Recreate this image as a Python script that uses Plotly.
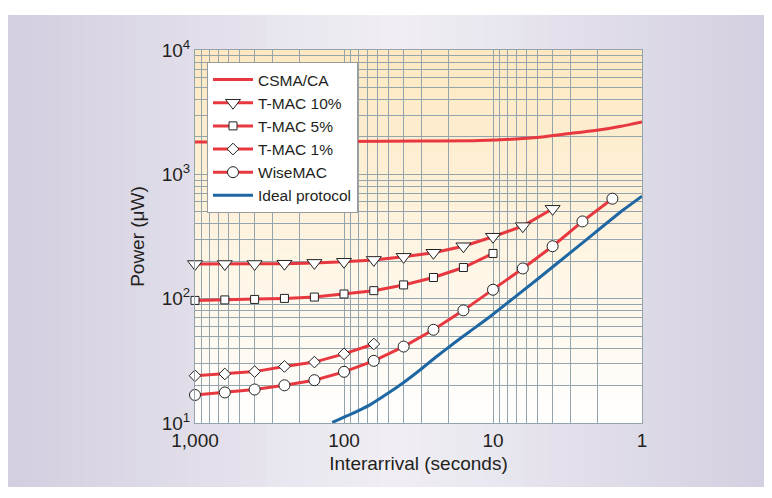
import plotly.graph_objects as go

# ---------------- data ----------------
x_marker = [1000, 631, 398, 251, 158, 100, 63.1, 39.8, 25.1, 15.8, 10, 6.31, 3.98, 2.51, 1.58]

tmac10_y = [190, 190, 190, 191, 194, 198, 205, 217, 234, 264, 315, 383, 528]
tmac5_y = [96.8, 97.7, 98.6, 100.5, 103, 109, 116, 129, 148, 178, 231]
tmac1_y = [24.0, 24.8, 25.9, 28.5, 30.9, 36.0, 43.2]
wisemac_y = [16.8, 17.6, 18.6, 20.1, 22.1, 25.8, 31.6, 41.2, 56.2, 80.5, 118, 175, 264, 418, 637]

csma_x = [1000, 300, 100, 30, 12.2, 5.1, 3.37, 2.01, 1.41, 1.0]
csma_y = [1820, 1825, 1840, 1855, 1870, 1975, 2100, 2265, 2425, 2640]

ideal_x = [120, 86.7, 67.0, 51.6, 40.0, 30.9, 23.9, 18.5, 14.3, 10.5, 5.01, 2.51, 1.34, 1.0]
ideal_y = [10.1, 12.0, 14.0, 17.1, 21.1, 26.7, 34.3, 43.4, 54.5, 71.5, 144, 281, 516, 668]

x_ticks = [1000, 100, 10, 1]
x_ticktext = ["1,000", "100", "10", "1"]
y_ticks = [10, 100, 1000, 10000]
y_ticktext = ["10<sup>1</sup>", "10<sup>2</sup>", "10<sup>3</sup>", "10<sup>4</sup>"]

# ---------------- style ----------------
RED = "#e8383f"
BLUE = "#1f67a3"
GRID = "#93a4ad"
FONT = "Liberation Sans, Arial, sans-serif"
W, H = 772, 498
OFF = 8  # page body margin
L, R, T, B = 195 - OFF, 772 - (642 - OFF), 50 - OFF, 498 - (423 - OFF)
PW, PH = W - L - R, H - T - B


def px2paper_x(px):  # px in screenshot coordinates
    return (px - OFF - L) / PW


def px2paper_y(py):
    return (H - B - (py - OFF)) / PH


def lerp(c1, c2, t):
    return tuple(round(a + (b - a) * t) for a, b in zip(c1, c2))


shapes = []
# lavender panel with horizontal gradient (light in the middle)
edge = (211, 206, 224)
mid = (240, 239, 244)
x0_px, x1_px, y0_px, y1_px = 8, 780, 15, 487
N = 60
for i in range(N):
    a = x0_px + (x1_px - x0_px) * i / N
    b = x0_px + (x1_px - x0_px) * (i + 1) / N + 0.6
    t = abs(((i + 0.5) / N) - 0.5) * 2
    c = lerp(mid, edge, t)
    shapes.append(dict(type="rect", xref="paper", yref="paper", layer="below",
                       x0=px2paper_x(a), x1=px2paper_x(b),
                       y0=px2paper_y(y1_px), y1=px2paper_y(y0_px),
                       fillcolor="rgb(%d,%d,%d)" % c, line=dict(width=0)))
# plot-area vertical gradient (cream top -> white bottom)
top_c = (253, 232, 193)
bot_c = (255, 255, 255)
M = 50
for i in range(M):
    y0 = i / M
    y1 = (i + 1) / M + 0.002
    c = lerp(bot_c, top_c, (i + 0.5) / M)
    shapes.append(dict(type="rect", xref="paper", yref="paper", layer="below",
                       x0=0, x1=1, y0=y0, y1=min(y1, 1),
                       fillcolor="rgb(%d,%d,%d)" % c, line=dict(width=0)))

mk_line = dict(color="#222222", width=1)

fig = go.Figure()
fig.add_trace(go.Scatter(x=csma_x, y=csma_y, mode="lines", name="CSMA/CA",
                         line=dict(color=RED, width=3, shape="spline", smoothing=0.8)))
fig.add_trace(go.Scatter(x=x_marker[:len(tmac10_y)], y=tmac10_y, mode="lines+markers", name="T-MAC 10%",
                         line=dict(color=RED, width=3), cliponaxis=False,
                         marker=dict(symbol="triangle-down", size=13, color="white", line=mk_line)))
fig.add_trace(go.Scatter(x=x_marker[:len(tmac5_y)], y=tmac5_y, mode="lines+markers", name="T-MAC 5%",
                         line=dict(color=RED, width=3), cliponaxis=False,
                         marker=dict(symbol="square", size=8, color="white", line=mk_line)))
fig.add_trace(go.Scatter(x=x_marker[:len(tmac1_y)], y=tmac1_y, mode="lines+markers", name="T-MAC 1%",
                         line=dict(color=RED, width=3), cliponaxis=False,
                         marker=dict(symbol="diamond", size=9, color="white", line=mk_line)))
fig.add_trace(go.Scatter(x=x_marker[:len(wisemac_y)], y=wisemac_y, mode="lines+markers", name="WiseMAC",
                         line=dict(color=RED, width=3), cliponaxis=False,
                         marker=dict(symbol="circle", size=11, color="white", line=mk_line)))
fig.add_trace(go.Scatter(x=ideal_x, y=ideal_y, mode="lines", name="Ideal protocol",
                         line=dict(color=BLUE, width=3, shape="spline", smoothing=0.5)))

minor_x = [m * 10 ** e for e in range(0, 3) for m in range(2, 10)]
minor_y = [m * 10 ** e for e in range(1, 4) for m in range(2, 10)]

fig.update_layout(
    width=W, height=H, autosize=False,
    margin=dict(l=L, r=R, t=T, b=B, pad=0),
    paper_bgcolor="white",
    plot_bgcolor="rgba(0,0,0,0)",
    shapes=shapes,
    font=dict(family=FONT, color="#231f20", size=19),
    showlegend=True,
    legend=dict(x=px2paper_x(207), y=px2paper_y(62), xanchor="left", yanchor="top",
                bgcolor="white", bordercolor="#9a9a9a", borderwidth=1,
                font=dict(family=FONT, size=15.5, color="#231f20"),
                tracegroupgap=0, itemwidth=40),
    xaxis=dict(type="log", range=[3, 0], tickmode="array", tickvals=x_ticks, ticktext=x_ticktext,
               showgrid=True, gridcolor=GRID, gridwidth=1, zeroline=False,
               showline=True, linecolor=GRID, linewidth=1, mirror=True, ticks="",
               tickfont=dict(size=19),
               minor=dict(tickmode="array", tickvals=minor_x, showgrid=True, gridcolor=GRID, gridwidth=1, ticks=""),
               title=dict(text="Interarrival (seconds)", font=dict(size=19), standoff=6)),
    yaxis=dict(type="log", range=[1, 4], tickmode="array", tickvals=y_ticks, ticktext=y_ticktext,
               showgrid=True, gridcolor=GRID, gridwidth=1, zeroline=False,
               showline=True, linecolor=GRID, linewidth=1, mirror=True, ticks="",
               tickfont=dict(size=19),
               minor=dict(tickmode="array", tickvals=minor_y, showgrid=True, gridcolor=GRID, gridwidth=1, ticks=""),
               title=dict(text="Power (μW)", font=dict(size=19), standoff=12)),
)

fig.write_html("out.html")
